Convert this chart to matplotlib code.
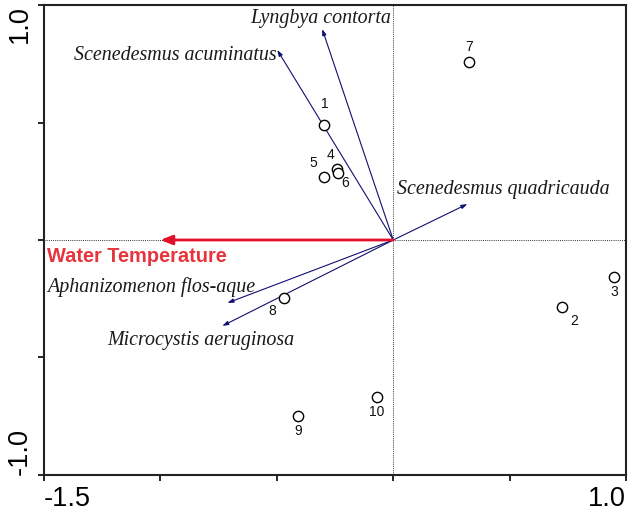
import matplotlib
matplotlib.use("Agg")
import matplotlib.pyplot as plt

# Sample scores
site_labels = ["1", "2", "3", "4", "5", "6", "7", "8", "9", "10"]
site_x = [-0.296, 0.725, 0.948, -0.240, -0.296, -0.236, 0.326, -0.468, -0.408, -0.069]
site_y = [0.489, -0.285, -0.157, 0.302, 0.268, 0.285, 0.757, -0.247, -0.749, -0.668]

# Species arrows
species = ["Lyngbya contorta", "Scenedesmus acuminatus", "Scenedesmus quadricauda",
           "Aphanizomenon flos-aque", "Microcystis aeruginosa"]
species_x = [-0.305, -0.498, 0.318, -0.712, -0.734]
species_y = [0.898, 0.809, 0.153, -0.268, -0.366]

# Environmental variable
env_name = "Water Temperature"
env_x = -1.0
env_y = 0.0

x_ticks = [-1.5, -1.0, -0.5, 0.0, 0.5, 1.0]
x_ticklabels = ["-1.5", "", "", "", "", "1.0"]
y_ticks = [-1.0, -0.5, 0.0, 0.5, 1.0]
y_ticklabels = ["-1.0", "", "", "", "1.0"]

fig = plt.figure(figsize=(6.28, 5.15), dpi=100)
ax = fig.add_axes([0.070, 0.078, 0.927, 0.912])
ax.set_xlim(-1.5, 1.0)
ax.set_ylim(-1.0, 1.0)

# dotted zero lines
ax.axvline(0, color="#333333", lw=0.7, ls=(0, (1, 1.2)), zorder=1)
ax.axhline(0, color="#333333", lw=0.7, ls=(0, (1, 1.2)), zorder=1)

arrow_col = "#4038b0"
for sx, sy in zip(species_x, species_y):
    ax.annotate("", xy=(sx, sy), xytext=(0, 0),
                arrowprops=dict(arrowstyle="-|>,head_length=0.35,head_width=0.12",
                                color=arrow_col, lw=0.8, shrinkA=0, shrinkB=0,
                                fc="#101070", ec="#101070"), zorder=3)

ax.annotate("", xy=(env_x, env_y), xytext=(0, 0),
            arrowprops=dict(arrowstyle="-|>,head_length=0.7,head_width=0.28",
                            color="#e3102c", lw=2.0, shrinkA=0, shrinkB=0), zorder=4)

serif = ["Liberation Serif", "DejaVu Serif"]
sp_fs = 14.4
sp_col = "#1a1a1a"
ax.text(-0.01, 0.945, species[0], ha="right", va="center", fontsize=sp_fs,
        family=serif, style="italic", color=sp_col)
ax.text(-0.502, 0.787, species[1], ha="right", va="center", fontsize=sp_fs,
        family=serif, style="italic", color=sp_col)
ax.text(0.017, 0.213, species[2], ha="left", va="center", fontsize=sp_fs,
        family=serif, style="italic", color=sp_col)
ax.text(-0.592, -0.200, species[3], ha="right", va="center", fontsize=sp_fs,
        family=serif, style="italic", color=sp_col)
ax.text(-0.425, -0.426, species[4], ha="right", va="center", fontsize=sp_fs,
        family=serif, style="italic", color=sp_col)

ax.text(-1.485, -0.072, env_name, ha="left", va="center", fontsize=14.4,
        family=["Liberation Sans", "DejaVu Sans"], weight="bold", color="#e8343c")

# sites
ax.scatter(site_x, site_y, s=55, facecolors="white", edgecolors="black",
           linewidths=1.0, zorder=5)
offsets = {
    "1": (0, 10, "center", "bottom"),
    "2": (6, -5, "left", "top"),
    "3": (0, -6, "center", "top"),
    "4": (-5, 5, "center", "bottom"),
    "5": (-8, 5, "center", "bottom"),
    "6": (2, -2, "left", "top"),
    "7": (0, 6, "center", "bottom"),
    "8": (-6, -4, "right", "top"),
    "9": (0, -6, "center", "top"),
    "10": (0, -6, "center", "top"),
}
for lab, x, y in zip(site_labels, site_x, site_y):
    dx, dy, ha, va = offsets[lab]
    ax.annotate(lab, (x, y), xytext=(dx, dy), textcoords="offset points",
                ha=ha, va=va, fontsize=10, family=["Liberation Sans", "DejaVu Sans"],
                color="#111111", zorder=6)

ax.set_xticks(x_ticks)
ax.set_xticklabels(x_ticklabels, fontsize=19.5, family=["Liberation Sans", "DejaVu Sans"])
ax.set_yticks(y_ticks)
ax.set_yticklabels(y_ticklabels, fontsize=19.5, family=["Liberation Sans", "DejaVu Sans"],
                   rotation=90)
xl = ax.get_xticklabels()
xl[0].set_ha("left")
xl[-1].set_ha("right")
yl = ax.get_yticklabels()
yl[0].set_va("bottom")
yl[-1].set_va("top")
ax.tick_params(direction="out", length=4, width=1.2, colors="black", pad=4)
for s in ax.spines.values():
    s.set_linewidth(1.5)
    s.set_color("#222222")

fig.savefig("out.png", dpi=100)
